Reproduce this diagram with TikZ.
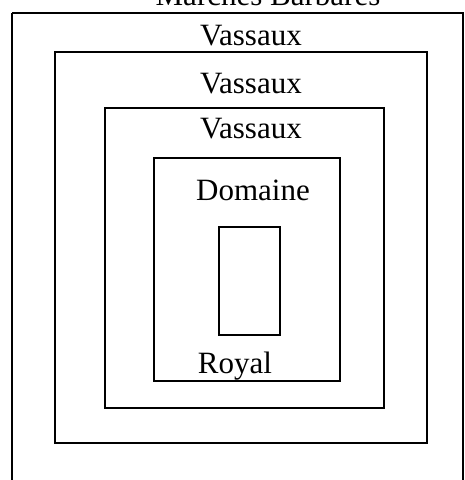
\documentclass[tikz,border=0pt]{standalone}
\usepackage{fontspec}
\setmainfont{Liberation Serif}
\begin{document}
\begin{tikzpicture}[x=1pt,y=-1pt,
  frame/.style={draw=black,line width=1.6pt},
  lbl/.style={anchor=base,inner sep=0pt,font=\fontsize{31}{36}\selectfont}]
\useasboundingbox (0,0) rectangle (465,480);
\begin{scope}
\clip (0,0) rectangle (465,480);
\draw[frame] (12,13) coordinate (o1) -- (463,13) coordinate (o2) -- (463,500) (12,13) -- (12,500);
\end{scope}
\node[frame,minimum width=372pt,minimum height=391pt,inner sep=0pt] (b2) at (241,247.5) {};
\node[frame,minimum width=279pt,minimum height=300pt,inner sep=0pt] (b3) at (244.5,258) {};
\node[frame,minimum width=186pt,minimum height=223pt,inner sep=0pt] (b4) at (247,269.5) {};
\node[frame,minimum width=61pt,minimum height=108pt,inner sep=0pt] (b5) at (249.5,281) {};
\node[lbl] (t0) at (268,5) {Marches Barbares};
\node[lbl] (t1) at (251,45) {Vassaux};
\node[lbl] (t2) at (251,93) {Vassaux};
\node[lbl] (t3) at (251,138) {Vassaux};
\node[lbl] (t4) at (253,200) {Domaine};
\node[lbl] (t5) at (235,373) {Royal};
\end{tikzpicture}
\end{document}
